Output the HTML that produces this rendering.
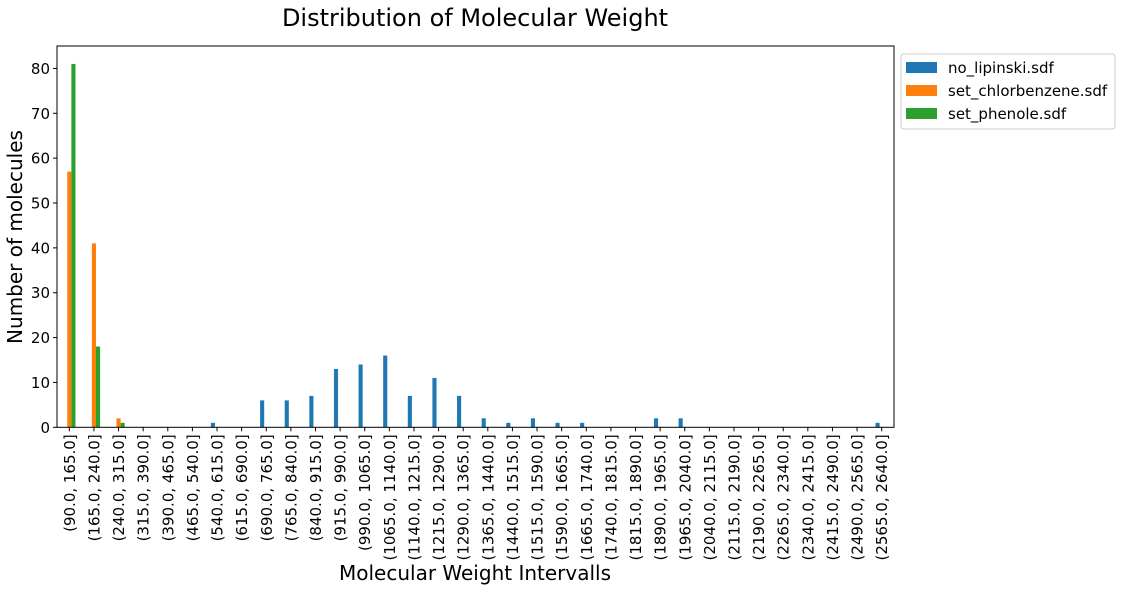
<!DOCTYPE html>
<html><head><meta charset="utf-8"><style>
body{margin:0;background:#fff;font-family:"DejaVu Sans","Liberation Sans",sans-serif;}
svg text{font-family:"DejaVu Sans","Liberation Sans",sans-serif;}
</style></head><body>
<svg id="chart" width="1122" height="590" xmlns="http://www.w3.org/2000/svg">
<rect width="1122" height="590" fill="#fff"/>
<text x="475" y="26" font-size="24" text-anchor="middle">Distribution of Molecular Weight</text>
<text transform="translate(22,237) rotate(-90)" font-size="20" text-anchor="middle">Number of molecules</text>
<text x="475" y="580" font-size="20" text-anchor="middle">Molecular Weight Intervalls</text>
<g id="bars"></g><g id="axes"></g>
<g>
<rect x="901" y="54" width="214" height="75" fill="#fff" stroke="#ccc" rx="3"/>
<rect x="906" y="62" width="31" height="11" fill="#1f77b4"/>
<text x="948" y="73" font-size="15">no_lipinski.sdf</text>
<rect x="906" y="85" width="31" height="11" fill="#ff7f0e"/>
<text x="948" y="96" font-size="15">set_chlorbenzene.sdf</text>
<rect x="906" y="108" width="31" height="11" fill="#2ca02c"/>
<text x="948" y="119" font-size="15">set_phenole.sdf</text>
</g>
</svg>
<script>
const lows = [90,165,240,315,390,465,540,615,690,765,840,915,990,1065,1140,1215,1290,1365,1440,1515,1590,1665,1740,1815,1890,1965,2040,2115,2190,2265,2340,2415,2490,2565];
const noLipinski = [0,0,0,0,0,0,1,0,6,6,7,13,14,16,7,11,7,2,1,2,1,1,0,0,2,2,0,0,0,0,0,0,0,1];
const chlorbenzene = [57,41,2,0,0,0,0,0,0,0,0,0,0,0,0,0,0,0,0,0,0,0,0,0,0,0,0,0,0,0,0,0,0,0];
const phenole = [81,18,1,0,0,0,0,0,0,0,0,0,0,0,0,0,0,0,0,0,0,0,0,0,0,0,0,0,0,0,0,0,0,0];
const yTicks = [0,10,20,30,40,50,60,70,80];
const yMax = 85;
const L=57,R=894,T=46,B=427.3;
const slot=(R-L)/lows.length, bw=slot*0.5/3;
const xC=i=>L+(i+0.5)*slot;
const y=v=>B-(v/yMax)*(B-T);
const NS="http://www.w3.org/2000/svg";
const bars=document.getElementById('bars'), axes=document.getElementById('axes');
function mk(tag,attrs,parent){const e=document.createElementNS(NS,tag);for(const k in attrs)e.setAttribute(k,attrs[k]);parent.appendChild(e);return e;}
const series=[[noLipinski,'#1f77b4',-1.5,'no-lipinski'],[chlorbenzene,'#ff7f0e',-0.5,'chlorbenzene'],[phenole,'#2ca02c',0.5,'phenole']];
series.forEach(([d,c,off,nm])=>{d.forEach((v,i)=>{if(v<=0)return;
const r=mk('rect',{x:xC(i)+off*bw,y:y(v),width:bw,height:B-y(v),fill:c},bars);

});});
const frame=mk('rect',{x:L,y:T,width:R-L,height:B-T,fill:'none',stroke:'#000','stroke-width':1},axes);


yTicks.forEach(t=>{mk('line',{x1:L-4,x2:L,y1:y(t),y2:y(t),stroke:'#000'},axes);
const tx=mk('text',{x:L-7,y:y(t)+5.5,'font-size':15,'text-anchor':'end'},axes);tx.textContent=t;

});
lows.forEach((lo,i)=>{const x=xC(i);mk('line',{x1:x,x2:x,y1:B,y2:B+4,stroke:'#000'},axes);
const tx=mk('text',{transform:`translate(${x+5.5},${B+7}) rotate(-90)`,'font-size':15,'text-anchor':'end'},axes);
tx.textContent=`(${lo.toFixed(1)}, ${(lo+75).toFixed(1)}]`;

});
</script>
</body></html>
